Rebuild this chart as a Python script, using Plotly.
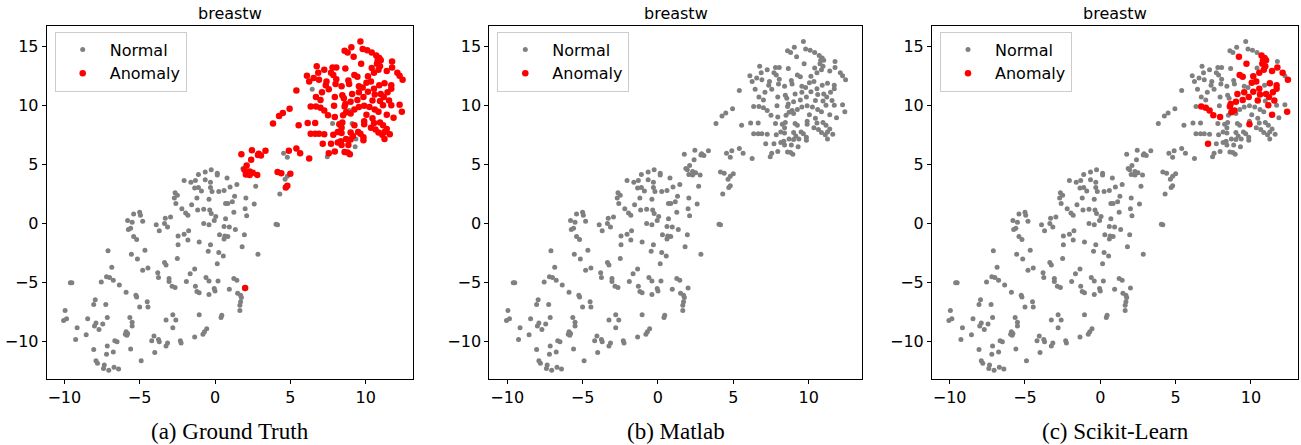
import plotly.graph_objects as go

# ---- shared t-SNE embedding ----
band_points = [
    (-5.4,0.8),(-5.0,0.95),(-4.95,0.7),(-5.8,0.25),(-5.5,0.1),(-4.8,0.2),(-5.6,-0.4),(-5.75,-0.5),
    (-3.3,0.45),(-2.95,0.55),(-3.9,-0.1),(-3.35,0.0),(-3.7,-0.6),(-3.15,-0.3),(-5.4,-1.1),(-5.2,-1.35),
    (-7.1,-2.3),(-5.55,-2.6),(-5.15,-3.0),(-4.65,-2.25),(-6.85,-3.7),(-7.2,-4.5),(-7.0,-4.55),(-6.75,-4.8),
    (-7.55,-4.95),(-9.6,-5.0),(-9.5,-5.0),(-4.8,-3.95),(-4.45,-3.75),(-3.8,-4.15),(-3.75,-4.55),(-3.35,-3.3),
    (-3.25,-3.5),(-3.05,-4.65),(-3.05,-4.9),(-2.85,-5.3),(-2.65,-5.4),(-6.35,-5.2),(-5.9,-5.8),(-5.25,-6.05),
    (-5.2,-6.2),(-4.5,-6.6),(-4.45,-7.05),(-5.0,-7.05),(-7.95,-6.45),(-8.05,-6.85),(-7.25,-6.85),(-9.95,-7.35),
    (-9.85,-8.05),(-10.05,-8.2),(-8.45,-8.05),(-7.9,-8.4),(-8.0,-8.65),(-7.45,-8.5),(-7.15,-7.95),(-9.15,-8.8),
    (-8.55,-9.4),(-9.25,-9.8),(-7.7,-8.95),(-5.65,-7.95),(-5.5,-8.35),(-5.5,-8.65),(-5.9,-9.15),(-5.95,-9.35),
    (-5.85,-9.45),(-5.8,-9.3),(-6.65,-9.9),(-6.5,-10.0),(-7.15,-10.35),(-8.05,-10.65),(-7.2,-11.05),(-6.75,-10.85),
    (-5.6,-10.6),(-7.9,-11.6),(-7.8,-11.8),(-7.35,-11.95),(-7.4,-12.25),(-7.05,-12.4),(-6.7,-12.15),(-6.4,-12.3),
    (-4.9,-11.6),(-4.05,-9.5),(-4.2,-9.9),(-3.75,-9.8),(-3.7,-10.0),(-3.15,-10.1),(-3.25,-10.35),(-4.0,-10.9),
    (-3.25,-8.15),(-2.8,-7.7),(-2.6,-8.15),(-2.8,-8.8),(-2.5,-2.95),
    (-2.6,1.7),(-2.2,1.25),(-1.55,1.6),(-1.95,0.9),(-1.8,0.7),(-1.15,1.15),(-0.75,1.2),(-0.35,1.15),
    (-0.25,0.85),(0.05,0.6),(-0.05,0.25),(-0.4,-0.1),(-0.75,0.0),(0.7,1.7),(0.85,1.7),(1.15,1.85),
    (1.25,0.95),(2.0,1.25),(2.1,0.65),(2.6,1.65),(0.7,0.4),(0.6,-0.25),(0.95,-0.3),(1.35,-0.5),
    (0.3,-0.95),(0.65,-1.05),(0.6,-1.3),(0.85,-1.1),(1.95,-0.95),(1.8,-1.95),(2.85,-2.6),(4.05,-0.05),
    (4.15,-0.1),(-1.75,-0.6),(-2.05,-0.9),(-2.45,-1.05),(-1.8,-1.4),(-2.45,-1.8),(-1.05,-1.55),(-0.3,-1.8),
    (-0.45,-2.35),(0.25,-2.45),(0.55,-2.75),(0.15,-3.4),(-1.35,-3.85),(-1.65,-4.25),(-1.9,-4.9),(-0.6,-4.55),
    (-0.4,-4.85),(0.2,-4.85),(1.25,-4.65),(1.45,-4.8),(-1.3,-5.3),(-1.2,-5.75),(-1.05,-5.85),(-0.4,-6.0),
    (-0.05,-5.5),(0.0,-5.7),(0.95,-5.55),(2.0,-5.45),(1.5,-5.9),(1.7,-6.05),(1.75,-6.25),(1.7,-6.6),
    (1.65,-6.9),(1.65,-7.35),(-1.05,-7.7),(0.45,-7.75),(0.4,-7.95),(-0.55,-8.9),(-0.7,-9.15),(-0.8,-9.35),
    (-2.3,-9.9),(-2.25,-10.1),(-1.35,-9.6),
    (1.75,5.85),(2.45,6.2),(2.9,5.9),(3.05,5.75),(3.35,6.15),(2.85,5.8),(2.4,5.4),(2.1,4.9),
    (1.85,4.65),(1.95,4.55),(2.3,4.4),(2.5,4.3),(2.05,4.15),(2.3,4.1),(2.8,4.1),
    (4.55,5.95),(4.9,6.15),(4.8,5.6),(4.15,4.35),(4.4,4.25),(4.8,4.0),(5.0,4.2),(4.65,3.75),
    (4.8,3.2),(4.7,3.05),(4.3,2.5),(2.7,3.15),
    (-2.05,3.65),(-1.6,3.5),(-1.3,3.65),(-1.1,4.15),(-0.65,4.35),(-0.25,4.55),(0.15,4.25),(0.15,4.1),
    (-0.65,3.7),(-0.3,3.5),(-1.35,3.0),(-1.1,3.05),(-0.9,2.75),(-0.3,3.05),(-0.2,2.7),(0.25,2.7),
    (0.6,2.8),(1.0,3.1),(1.45,3.3),(0.8,3.85),(-2.65,2.6),(-2.5,2.4),(-2.7,2.15),(-1.2,2.15),
    (-0.4,2.05),(1.3,2.3),(2.05,2.15),
]

cluster_points = [
    (5.4,11.25),(4.95,9.7),(4.5,9.35),(4.25,9.1),(3.85,8.45),(5.4,6.35),
    (9.65,15.4),(9.05,14.9),(8.6,14.6),(8.8,14.45),(9.8,14.75),(10.1,14.65),(10.4,14.45),(9.2,14.1),
    (10.7,14.2),(10.9,14.0),(10.8,13.8),(11.0,13.8),(11.75,13.7),(6.75,13.3),(7.25,13.0),(6.85,12.75),
    (7.8,13.2),(8.05,13.2),(8.65,13.1),(9.7,13.5),(10.4,13.15),(10.75,13.5),(10.95,13.3),(11.75,13.2),
    (6.1,12.5),(6.55,12.3),(6.25,12.0),(6.9,12.15),(7.4,12.0),(7.7,12.75),(7.85,12.55),(8.05,12.2),
    (9.25,12.55),(9.45,12.4),(10.15,12.45),(10.55,12.75),(10.05,11.9),(10.85,13.0),(11.4,12.9),(12.1,12.75),
    (12.25,12.5),(12.45,12.15),(7.35,11.7),(8.0,11.8),(7.55,11.35),(8.4,11.6),(8.85,12.1),(8.9,11.8),
    (9.55,11.6),(9.8,11.5),(10.35,12.0),(10.55,11.4),(10.9,11.7),(11.25,11.85),(11.7,11.7),(11.7,11.4),
    (6.45,11.35),(7.1,11.1),(8.45,10.85),(8.55,10.6),(9.1,10.95),(9.55,11.1),(10.15,11.15),(10.6,10.9),
    (11.0,10.95),(11.2,10.7),(11.45,11.1),(11.55,10.4),(6.7,10.7),(7.0,10.45),(7.95,10.7),(8.65,10.1),
    (9.0,10.3),(9.45,10.45),(9.85,10.7),(10.45,10.4),(10.95,10.35),(11.15,10.0),(6.35,9.9),(6.7,9.9),
    (7.0,9.8),(7.25,9.55),(7.9,9.95),(8.6,9.9),(8.9,9.55),(9.25,9.65),(9.55,9.85),(9.9,9.95),
    (10.25,9.85),(10.6,9.65),(11.7,10.0),(12.25,10.05),(12.4,9.45),(7.5,9.15),(7.95,9.0),(8.5,9.15),
    (8.7,9.4),(9.0,9.3),(10.05,9.2),(10.85,9.45),(11.4,9.2),(11.85,8.95),(10.45,8.9),(5.55,8.3),
    (6.15,8.5),(6.65,8.5),(7.8,8.45),(8.25,8.4),(8.45,8.55),(8.4,8.1),(9.1,8.45),(9.25,8.3),
    (9.9,8.65),(9.9,8.4),(10.55,8.5),(10.35,8.1),(10.95,8.55),(11.15,8.3),(10.65,7.95),(11.25,7.75),
    (11.4,8.0),(11.6,7.55),(6.35,7.6),(6.65,7.6),(6.9,7.6),(7.25,7.55),(7.85,7.5),(8.15,7.75),
    (8.4,7.65),(9.0,7.7),(9.15,7.4),(9.5,7.75),(9.65,7.6),(9.85,7.3),(9.85,7.05),(10.85,7.7),
    (11.1,7.5),(11.25,7.15),(7.15,6.75),(7.7,6.75),(8.15,6.85),(8.35,6.95),(8.7,7.15),(9.0,7.1),
    (9.35,7.15),(8.4,6.65),(8.85,6.65),(9.3,6.5),(7.95,6.1),(8.6,6.05),(8.8,6.0),(8.95,5.85),
    (7.55,5.95),(7.45,5.65),(5.65,5.95),(6.25,5.5),
]

# ---- labels per panel ----
gt_normal_in_cluster = [(8.9,9.55),(9.1,8.45),(7.8,8.45),(9.35,7.15),(9.3,6.5),(7.45,5.65),(6.45,11.35)]
gt_extra_anomaly = [
    (1.75,5.85),(2.45,6.2),(2.9,5.9),(3.05,5.75),(3.35,6.15),(2.85,5.8),(2.4,5.4),(2.1,4.9),
    (1.95,4.55),(2.3,4.4),(2.5,4.3),(2.05,4.15),(2.3,4.1),(2.8,4.1),
    (4.9,6.15),(4.15,4.35),(4.4,4.25),(5.0,4.2),(4.8,3.2),(4.7,3.05),(2.0,-5.45),
]
matlab_anomaly = []
sklearn_anomaly = [
    (9.2,14.1),(9.7,13.5),(9.45,12.4),(9.25,12.55),(10.75,13.5),(10.95,13.3),(10.9,14.0),(10.8,13.8),
    (11.0,13.8),(10.85,13.0),(11.75,13.2),(11.4,12.9),(12.1,12.75),(12.45,12.15),(10.15,12.45),(10.55,12.75),
    (10.35,12.0),(10.05,11.9),(10.55,11.4),(10.6,10.9),(10.15,11.15),(11.25,11.85),(11.7,11.4),(11.7,11.7),
    (11.55,10.4),(11.45,11.1),(11.2,10.7),(11.0,10.95),(11.15,10.0),(10.45,10.4),(9.1,10.95),(9.0,10.3),
    (8.65,10.1),(9.45,10.45),(8.6,9.9),(8.7,9.4),(8.9,9.55),(6.7,9.9),(7.0,9.8),(7.25,9.55),
    (7.5,9.15),(7.95,9.0),(9.9,8.4),(11.4,9.2),(12.4,9.45),(7.15,6.75),(9.55,11.1),(9.85,10.7),(10.7,14.2),
]

panel_titles = ["breastw", "breastw", "breastw"]
captions = ["(a) Ground Truth", "(b) Matlab", "(c) Scikit-Learn"]
legend_names = ["Normal", "Anomaly"]
x_ticks = [-10, -5, 0, 5, 10]
y_ticks = [-10, -5, 0, 5, 10, 15]


def key(p):
    return (round(p[0], 2), round(p[1], 2))


all_points = band_points + cluster_points
gt_norm_set = set(map(key, gt_normal_in_cluster))
gt_set = set(key(p) for p in cluster_points if key(p) not in gt_norm_set) | set(map(key, gt_extra_anomaly))
panel_sets = [gt_set, set(map(key, matlab_anomaly)), set(map(key, sklearn_anomaly))]

# ---- layout geometry (page pixels) ----
W, H = 1301, 445
panel_px = [(46.7, 412.7), (489.3, 861.7), (932.0, 1298.0)]
x_ranges = [(-11.17, 13.12), (-11.19, 13.52), (-11.17, 13.12)]
y_top_px, y_bot_px = 26.0, 379.0
y_range = (-13.14, 16.7)

fig = go.Figure()
fnt = "DejaVu Sans, Arial, sans-serif"


def fmt(v):
    return ("\u2212" + str(abs(v))) if v < 0 else str(v)


for i in range(3):
    aset = panel_sets[i]
    nx = [p[0] for p in all_points if key(p) not in aset]
    ny = [p[1] for p in all_points if key(p) not in aset]
    ax_ = [p[0] for p in all_points if key(p) in aset]
    ay_ = [p[1] for p in all_points if key(p) in aset]
    if not ax_:
        ax_, ay_ = [None], [None]
    suffix = "" if i == 0 else str(i + 1)
    leg = "legend" if i == 0 else "legend%d" % (i + 1)
    fig.add_trace(go.Scatter(x=nx, y=ny, mode="markers", name=legend_names[0],
                             marker=dict(color="#808080", size=5, line=dict(width=0)),
                             xaxis="x" + suffix, yaxis="y" + suffix, legend=leg,
                             legendgroup="n%d" % i))
    fig.add_trace(go.Scatter(x=ax_, y=ay_, mode="markers", name=legend_names[1],
                             marker=dict(color="#ff0000", size=6.5, line=dict(width=0)),
                             xaxis="x" + suffix, yaxis="y" + suffix, legend=leg,
                             legendgroup="a%d" % i))

    l, r = panel_px[i]
    axcommon = dict(showgrid=False, zeroline=False, showline=True, mirror=True,
                    linecolor="black", linewidth=1, ticks="outside", ticklen=4,
                    tickwidth=1, tickcolor="black",
                    tickfont=dict(family=fnt, size=16, color="black"))
    fig.layout["xaxis" + suffix] = dict(domain=[l / W, r / W], range=list(x_ranges[i]),
                                        tickvals=x_ticks, ticktext=[fmt(v) for v in x_ticks],
                                        anchor="y" + suffix, **axcommon)
    fig.layout["yaxis" + suffix] = dict(domain=[1 - y_bot_px / H, 1 - y_top_px / H],
                                        range=list(y_range), tickvals=y_ticks,
                                        ticktext=[fmt(v) for v in y_ticks],
                                        anchor="x" + suffix, **axcommon)
    fig.layout[leg] = dict(x=(l + 8.0) / W, y=1 - 31.5 / H, xanchor="left", yanchor="top",
                           bgcolor="rgba(255,255,255,0.8)", bordercolor="#cccccc",
                           borderwidth=1, itemwidth=44, tracegroupgap=0,
                           font=dict(family=fnt, size=16, color="black"))
    cx = (l + r) / 2 / W
    fig.add_annotation(x=cx, y=1 - 13 / H, xref="paper", yref="paper", text=panel_titles[i],
                       showarrow=False, font=dict(family=fnt, size=16, color="black"),
                       xanchor="center", yanchor="middle")
    fig.add_annotation(x=cx, y=1 - 431 / H, xref="paper", yref="paper", text=captions[i],
                       showarrow=False,
                       font=dict(family="Liberation Serif, Times New Roman, serif", size=23,
                                 color="black"),
                       xanchor="center", yanchor="middle")

fig.update_layout(width=W, height=H, autosize=False, margin=dict(l=0, r=0, t=0, b=0),
                  paper_bgcolor="white", plot_bgcolor="white", showlegend=True)
fig.write_html("out.html", config={"displayModeBar": False},
               post_script="document.body.style.margin='0px';document.body.style.overflow='hidden';")
